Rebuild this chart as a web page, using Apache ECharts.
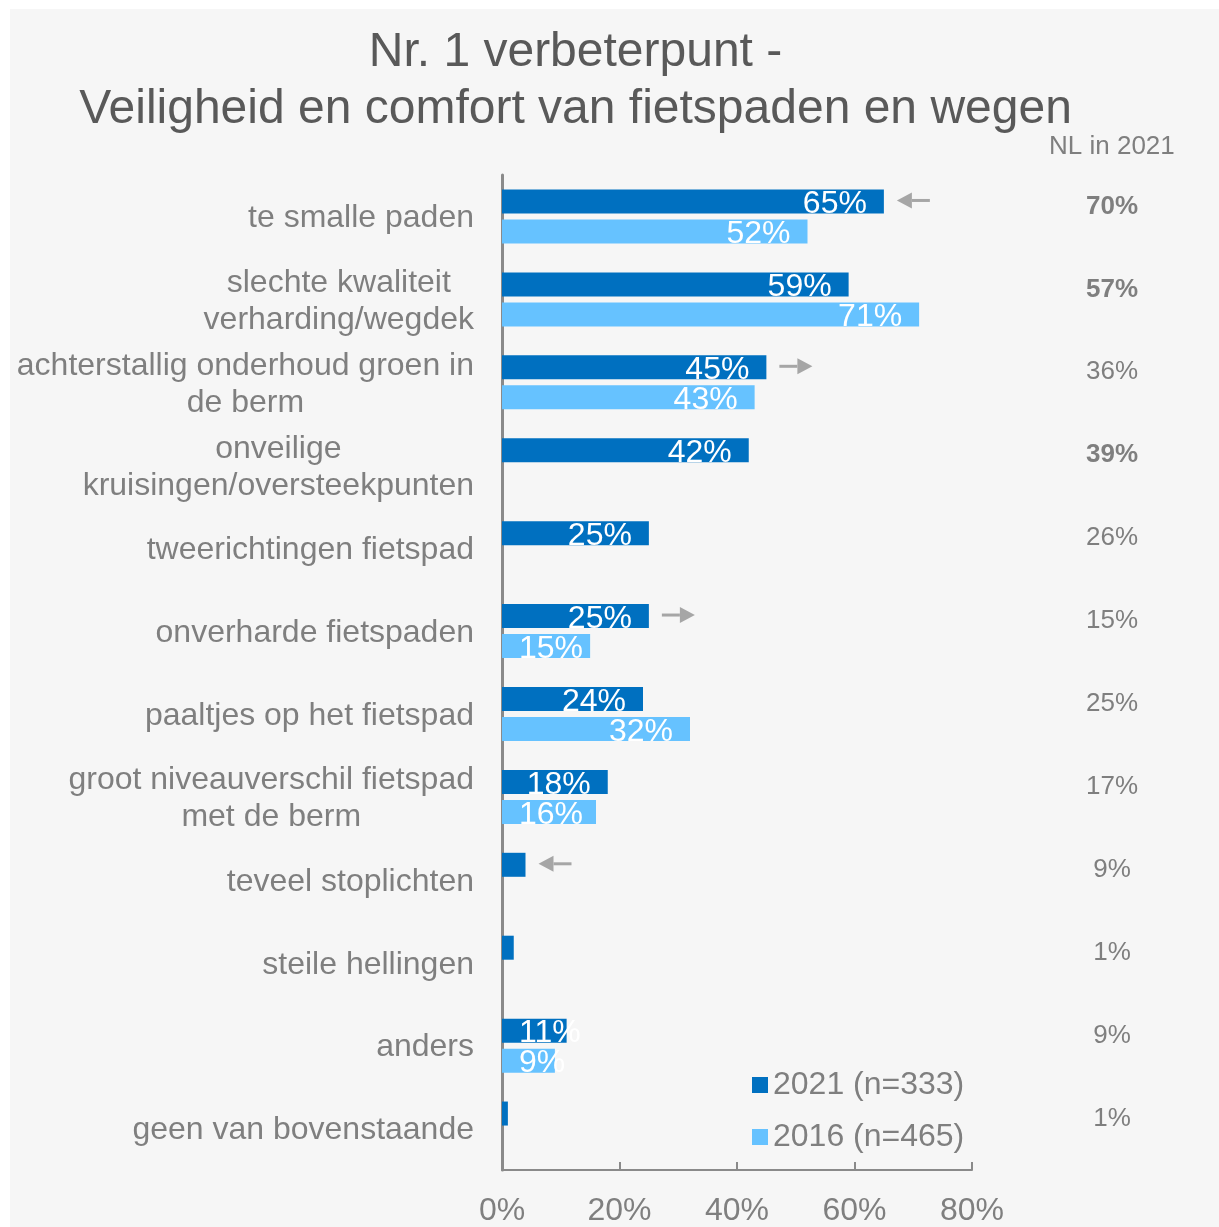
<!DOCTYPE html>
<html>
<head>
<meta charset="utf-8">
<script src="https://cdn.jsdelivr.net/npm/echarts@6/dist/echarts.min.js"></script>
<style>
html, body { margin: 0; padding: 0; background: #fff; }
#chart { position: absolute; left: 10px; top: 9px; width: 1209px; height: 1218px; background: #f6f6f6; }
</style>
</head>
<body>
<div id="chart"></div>
<script>
// categorieen van boven naar beneden
var categories = [
  'te smalle paden',
  'slechte kwaliteit\nverharding/wegdek',
  'achterstallig onderhoud groen in\nde berm',
  'onveilige\nkruisingen/oversteekpunten',
  'tweerichtingen fietspad',
  'onverharde fietspaden',
  'paaltjes op het fietspad',
  'groot niveauverschil fietspad\nmet de berm',
  'teveel stoplichten',
  'steile hellingen',
  'anders',
  'geen van bovenstaande'
];
var values2021 = [65, 59, 45, 42, 25, 25, 24, 18, 4, 2, 11, 1];
var values2016 = [52, 71, 43, null, null, 15, 32, 16, null, null, 9, null];
// NL in 2021 kolom rechts
var nlValues = [70, 57, 36, 39, 26, 15, 25, 17, 9, 1, 9, 1];
var nlBold = [true, true, false, true, false, false, false, false, false, false, false, false];
// pijltjes: rij + richting (-1 = links, 1 = rechts)
var arrowRows = [0, 2, 5, 8];
var arrowDirs = [-1, 1, 1, -1];
var xTicks = [0, 20, 40, 60, 80];

var FONT = 'Liberation Sans, Arial, sans-serif';
var GREY = '#7f7f7f';

// label binnen de balk, of links als het niet past, niet tonen bij heel kleine balken
function barItem(v) {
  if (v == null) return null;
  if (v < 5) return { value: v, label: { show: false } };
  if (v < 17) return { value: v, label: { position: 'insideLeft' } };
  return { value: v };
}

var myChart = echarts.init(document.getElementById('chart'));

var option = {
  animation: false,
  graphic: [
    {
      type: 'text', x: 565.5, y: 15,
      style: {
        text: 'Nr. 1 verbeterpunt -\nVeiligheid en comfort van fietspaden en wegen',
        fill: '#595959', fontSize: 48, lineHeight: 57, fontFamily: FONT,
        align: 'center', verticalAlign: 'top'
      }
    },
    {
      type: 'text', x: 1039, y: 138,
      style: { text: 'NL in 2021', fill: GREY, fontSize: 26, fontFamily: FONT, align: 'left', verticalAlign: 'middle' }
    }
  ],
  legend: {
    orient: 'vertical',
    left: 737,
    top: 1055,
    itemWidth: 16,
    itemHeight: 16,
    itemGap: 20,
    icon: 'rect',
    textStyle: { fontSize: 32, lineHeight: 32, color: GREY, fontFamily: FONT },
    data: ['2021 (n=333)', '2016 (n=465)']
  },
  grid: { left: 492, right: 247, top: 166, bottom: 54 },
  xAxis: {
    type: 'value',
    min: xTicks[0],
    max: xTicks[xTicks.length - 1],
    interval: xTicks[1] - xTicks[0],
    axisLine: { show: true, lineStyle: { color: '#8a8a8a', width: 2 } },
    axisTick: { show: true, inside: true, length: 8, lineStyle: { color: '#8a8a8a', width: 2 } },
    splitLine: { show: false },
    axisLabel: { formatter: '{value}%', fontSize: 32, color: GREY, fontFamily: FONT, margin: 25 }
  },
  yAxis: [
    {
      type: 'category',
      data: categories,
      inverse: true,
      axisLine: { show: true, lineStyle: { color: '#8a8a8a', width: 3 } },
      axisTick: { show: false },
      axisLabel: {
        margin: 28,
        padding: [4, 0, 0, 0],
        formatter: function (v) {
          return v.split('\n').map(function (l) { return '{c|' + l + '}'; }).join('\n');
        },
        rich: {
          c: { fontSize: 32, lineHeight: 37, color: GREY, fontFamily: FONT, align: 'center' }
        }
      }
    },
    {
      type: 'category',
      position: 'right',
      inverse: true,
      data: nlValues.map(function (v, i) { return String(i); }),
      axisLine: { show: false },
      axisTick: { show: false },
      axisLabel: {
        margin: 140,
        align: 'center',
        verticalAlign: 'bottom',
        lineHeight: 20,
        formatter: function (v, i) {
          return (nlBold[i] ? '{b|' : '{n|') + nlValues[i] + '%}';
        },
        rich: {
          b: { fontSize: 26, lineHeight: 20, fontWeight: 'bold', color: GREY, fontFamily: FONT },
          n: { fontSize: 26, lineHeight: 20, color: GREY, fontFamily: FONT }
        }
      }
    }
  ],
  series: [
    {
      name: '2021 (n=333)',
      type: 'bar',
      yAxisIndex: 0,
      barWidth: 24,
      barGap: '25%',
      itemStyle: { color: '#0070c0' },
      label: { show: true, position: 'insideRight', distance: 17, offset: [0, 3], formatter: '{c}%', color: '#fff', fontSize: 32, fontFamily: FONT },
      data: values2021.map(barItem)
    },
    {
      name: '2016 (n=465)',
      type: 'bar',
      yAxisIndex: 0,
      barWidth: 24,
      barGap: '25%',
      itemStyle: { color: '#66c2ff' },
      label: { show: true, position: 'insideRight', distance: 17, offset: [0, 3], formatter: '{c}%', color: '#fff', fontSize: 32, fontFamily: FONT },
      data: values2016.map(barItem)
    },
    {
      // grijze pijltjes naast de 2021 balk
      type: 'custom',
      yAxisIndex: 0,
      silent: true,
      encode: { x: 0, y: 1 },
      data: arrowRows.map(function (r, i) { return [values2021[r], r, arrowDirs[i]]; }),
      renderItem: function (params, api) {
        var p = api.coord([api.value(0), api.value(1)]);
        var y = p[1] - 16;
        var x0 = p[0] + 13, x1 = x0 + 33;
        var dir = api.value(2);
        var tip = dir < 0 ? x0 : x1;
        var base = dir < 0 ? x0 + 15 : x1 - 15;
        var col = '#a6a6a6';
        return {
          type: 'group',
          children: [
            { type: 'line', shape: { x1: dir < 0 ? base : x0, y1: y, x2: dir < 0 ? x1 : base, y2: y }, style: { stroke: col, lineWidth: 3 } },
            { type: 'polygon', shape: { points: [[tip, y], [base, y - 8], [base, y + 8]] }, style: { fill: col } }
          ]
        };
      }
    }
  ]
};

myChart.setOption(option);
</script>
</body>
</html>
